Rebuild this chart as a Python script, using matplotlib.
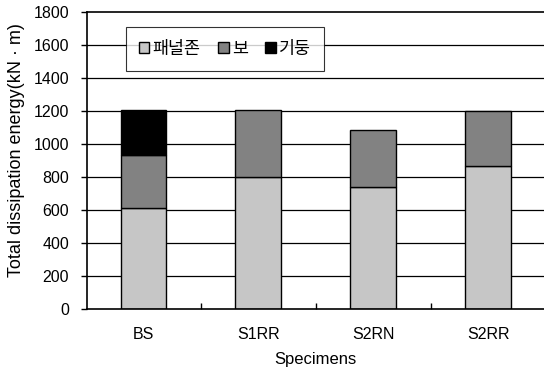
import matplotlib
matplotlib.use("Agg")
import matplotlib.pyplot as plt
import numpy as np

plt.rcParams['font.family'] = ['Liberation Sans', 'Noto Sans CJK KR', 'DejaVu Sans']

specimens = ["BS", "S1RR", "S2RN", "S2RR"]
panel_zone = [615, 800, 740, 865]
beam = [320, 405, 345, 335]
column = [270, 0, 0, 0]
series_names = ["패널존", "보", "기둥"]
y_ticks = [0, 200, 400, 600, 800, 1000, 1200, 1400, 1600, 1800]

fig = plt.figure(figsize=(5.44, 3.72), dpi=100)
ax = fig.add_axes([0.16, 0.169, 0.84, 0.799])

x = np.arange(len(specimens))
w = 0.4
ax.set_axisbelow(True)
for yv in y_ticks[1:-1]:
    ax.axhline(yv, color='black', lw=0.9, zorder=0)

b1 = ax.bar(x, panel_zone, w, color='#c6c6c6', edgecolor='black', lw=1.0,
            label=series_names[0], zorder=2)
bottom2 = np.array(panel_zone)
b2 = ax.bar(x, beam, w, bottom=bottom2, color='#828282', edgecolor='black',
            lw=1.0, label=series_names[1], zorder=2)
bottom3 = bottom2 + np.array(beam)
col_x = [xi for xi, c in zip(x, column) if c > 0]
col_v = [c for c in column if c > 0]
col_b = [b for b, c in zip(bottom3, column) if c > 0]
b3 = ax.bar(col_x, col_v, w, bottom=col_b, color='black', edgecolor='black',
            lw=1.0, label=series_names[2], zorder=2)

ax.set_xlim(-0.491, 3.483)
ax.set_ylim(0, 1800)
ax.set_yticks(y_ticks)
ax.set_xticks(x)
ax.set_xticklabels(specimens)
ax.set_xticks([0.5, 1.5, 2.5], minor=True)
ax.tick_params(axis='x', which='major', length=0, labelsize=11.5, pad=13)
ax.tick_params(axis='x', which='minor', direction='in', length=4, width=1)
ax.tick_params(axis='y', direction='out', length=4, width=1, labelsize=11.5, pad=9)

for s in ['left', 'top', 'bottom']:
    ax.spines[s].set_linewidth(1.2)
    ax.spines[s].set_color('black')
ax.spines['right'].set_visible(False)

ax.set_xlabel("Specimens", fontsize=12, labelpad=7)
ax.set_ylabel("Total dissipation energy(kN · m)", fontsize=13)
ax.yaxis.set_label_coords(-0.135, 0.535)

leg = ax.legend(handles=[b1, b2, b3], ncol=3, loc='upper left',
                bbox_to_anchor=(0.085, 0.949), frameon=True, fancybox=False,
                edgecolor='black', handlelength=0.6, handleheight=0.6,
                handletextpad=0.2, columnspacing=1.0, borderpad=0.75,
                borderaxespad=0,
                prop={'family': ['Noto Sans CJK KR'], 'size': 12.5})
leg.get_frame().set_linewidth(0.8)

fig.savefig("out.png", dpi=100)
